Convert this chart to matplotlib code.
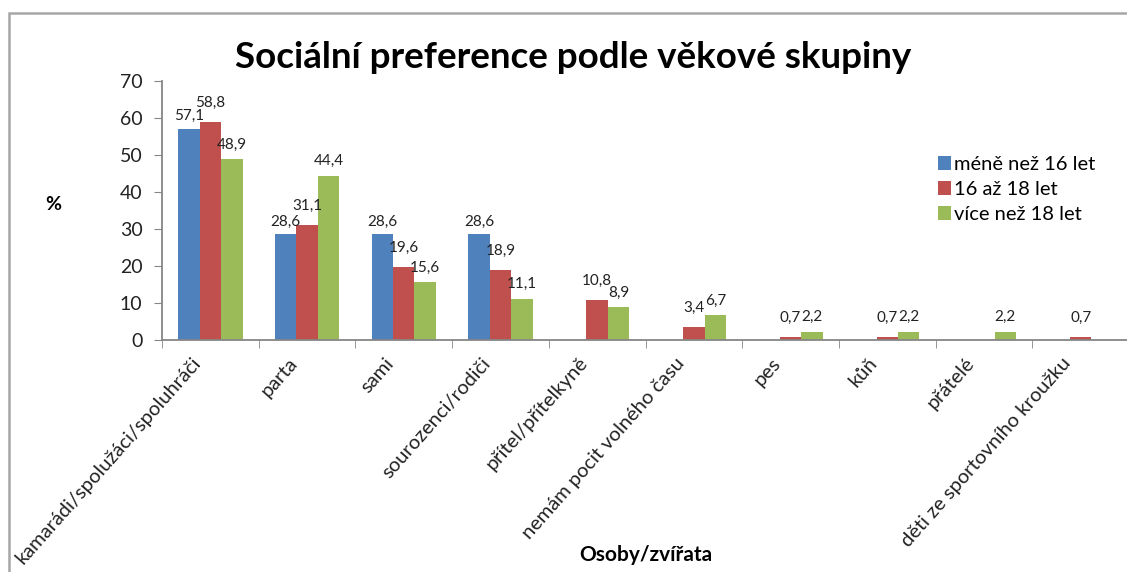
import numpy as np
import matplotlib
matplotlib.use("Agg")
import matplotlib.pyplot as plt
from matplotlib.patches import Rectangle
from matplotlib.transforms import ScaledTranslation

plt.rcParams['font.family'] = ['Lato', 'DejaVu Sans']

categories = ["kamarádi/spolužáci/spoluhráči", "parta", "sami", "sourozenci/rodiči",
              "přítel/přítelkyně", "nemám pocit volného času", "pes", "kůň",
              "přátelé", "děti ze sportovního kroužku"]
series_names = ["méně než 16 let", "16 až 18 let", "více než 18 let"]
vals_under16 = [57.1, 28.6, 28.6, 28.6, np.nan, np.nan, np.nan, np.nan, np.nan, np.nan]
vals_16_18 = [58.8, 31.1, 19.6, 18.9, 10.8, 3.4, 0.7, 0.7, np.nan, 0.7]
vals_over18 = [48.9, 44.4, 15.6, 11.1, 8.9, 6.7, 2.2, 2.2, 2.2, np.nan]
colors = ["#4F81BD", "#C0504D", "#9BBB59"]
label_offsets = [9, 14, 10.5]  # points above bar top, per series (style)
yticks = [0, 10, 20, 30, 40, 50, 60, 70]

W, H = 1127, 572
fig = plt.figure(figsize=(W / 100, H / 100), dpi=100)
fig.patch.set_facecolor("white")

# chart border (cut off at right and bottom in the reference)
fig.add_artist(Rectangle((9 / W, -0.1), 1.2, 1 - 13 / H + 0.1, transform=fig.transFigure,
                         fill=False, edgecolor="#A6A6A6", linewidth=1.8))

left, right = 162 / W, 1129 / W
bottom, top = 1 - 340 / H, 1 - 81 / H
ax = fig.add_axes([left, bottom, right - left, top - bottom])

x = np.arange(len(categories))
bw = 0.222
allvals = [vals_under16, vals_16_18, vals_over18]
for i, (vals, c, name, off) in enumerate(zip(allvals, colors, series_names, label_offsets)):
    pos = x + (i - 1) * bw
    ax.bar(pos, np.nan_to_num(vals), width=bw, color=c, label=name, zorder=2)
    for p, v in zip(pos, vals):
        if not np.isnan(v):
            ax.annotate(f"{v:.1f}".replace(".", ","), (p, v), xytext=(0, off),
                        textcoords="offset points", ha="center", va="center",
                        fontsize=11, color="#222222")

ax.set_xlim(-0.5, len(categories) - 0.5)
ax.set_ylim(0, 70)
ax.set_yticks(yticks)
ax.set_yticklabels([str(t) for t in yticks], fontsize=14, color="#222222")

# category labels, rotated, ending just below-left of each category centre
ax.set_xticks(x)
ax.set_xticklabels([])
lbl_tr = ax.get_xaxis_transform() + ScaledTranslation(-13 / 100, -20 / 100, fig.dpi_scale_trans)
for xi, cat in zip(x, categories):
    ax.text(xi, 0, cat, transform=lbl_tr, rotation=48.5, ha="right", va="center",
            rotation_mode="anchor", fontsize=14.5, color="#222222", clip_on=False)

ax.set_xticks(np.arange(len(categories) + 1) - 0.5, minor=True)
ax.tick_params(axis="x", which="major", length=0)
ax.tick_params(axis="x", which="minor", length=6, color="#868686", direction="out")
ax.tick_params(axis="y", length=6, color="#868686", direction="out", pad=8)

for s in ["top", "right"]:
    ax.spines[s].set_visible(False)
for s in ["left", "bottom"]:
    ax.spines[s].set_color("#868686")
    ax.spines[s].set_linewidth(1.3)

fig.text(573 / W, 1 - 58 / H, "Sociální preference podle věkové skupiny",
         ha="center", va="center", fontsize=26.5, fontweight="bold", color="black")
fig.text(53 / W, 1 - 205 / H, "%", ha="center", va="center", fontsize=14,
         fontweight="bold")
fig.text(646 / W, 1 - 555 / H, "Osoby/zvířata", ha="center", va="center", fontsize=15,
         fontweight="bold")

leg = ax.legend(loc="upper left", bbox_to_anchor=((938 - 162) / (1129 - 162), 1 - (156 - 81) / (340 - 81)),
                frameon=False, fontsize=14.5, handlelength=0.65, handleheight=0.65,
                handletextpad=0.15, labelspacing=0.4, borderaxespad=0, borderpad=0)

fig.savefig("out.png", dpi=100)
